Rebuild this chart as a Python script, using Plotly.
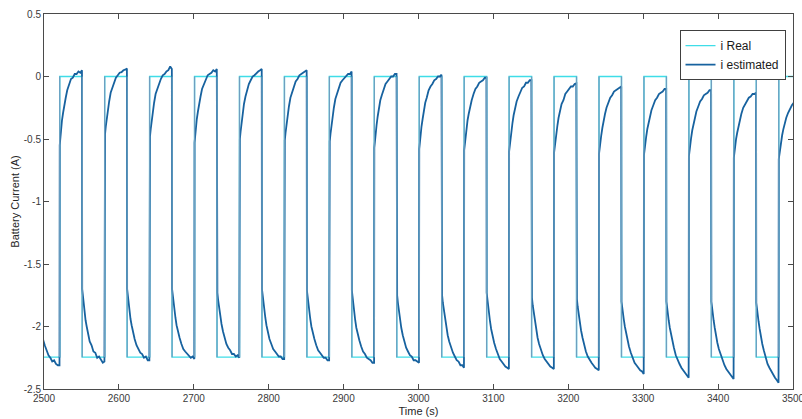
import plotly.graph_objects as go

# ---------------- data ----------------
rise_times = [2521, 2581, 2641, 2701, 2761, 2821, 2881, 2941, 3001, 3061,
              3121, 3181, 3241, 3301, 3361, 3421, 3481]
fall_times = [2551, 2611, 2671, 2731, 2791, 2851, 2911, 2971, 3031, 3091,
              3151, 3211, 3271, 3331, 3391, 3451]
real_high = 0.0
real_low = -2.245
real_start = 2490
real_end = 3510

# seconds after each transition at which the estimated current was read
phase_offsets = [0, 0.5, 1.5, 3, 4.5, 6, 8, 10, 12.5, 15, 17.5, 20, 22.5, 25, 27.5, 29.7]

# estimated current during the part of the low phase shown before the first rise
initial_low_start = 2491
initial_low_values = [-1.75, -1.80, -1.87, -1.95, -2.01, -2.06, -2.11, -2.15,
                      -2.19, -2.23, -2.25, -2.28, -2.27, -2.30, -2.31, -2.31]

# estimated current after each rise (real = 0 A)
high_phase_values = [
    [-0.55, -0.51, -0.45, -0.35, -0.29, -0.22, -0.17, -0.11, -0.07, -0.02, -0.01, 0.02, 0.02, 0.04, 0.03, 0.05],
    [-0.50, -0.46, -0.40, -0.32, -0.25, -0.20, -0.13, -0.09, -0.05, -0.01, 0.01, 0.03, 0.035, 0.05, 0.055, 0.065],
    [-0.52, -0.48, -0.42, -0.33, -0.27, -0.21, -0.14, -0.10, -0.05, -0.02, 0.01, 0.02, 0.04, 0.05, 0.08, 0.06],
    [-0.53, -0.49, -0.43, -0.34, -0.28, -0.21, -0.16, -0.10, -0.06, -0.03, 0.01, 0.02, 0.03, 0.05, 0.04, 0.06],
    [-0.54, -0.50, -0.44, -0.35, -0.29, -0.22, -0.16, -0.11, -0.06, -0.03, 0.00, 0.01, 0.03, 0.04, 0.05, 0.06],
    [-0.55, -0.51, -0.45, -0.37, -0.30, -0.24, -0.17, -0.13, -0.07, -0.04, -0.02, 0.01, 0.02, 0.03, 0.04, 0.05],
    [-0.56, -0.52, -0.46, -0.38, -0.31, -0.25, -0.18, -0.14, -0.09, -0.05, -0.03, -0.01, 0.01, 0.02, 0.02, 0.04],
    [-0.57, -0.53, -0.47, -0.39, -0.32, -0.26, -0.19, -0.15, -0.10, -0.06, -0.04, -0.02, 0.00, 0.00, 0.02, 0.02],
    [-0.58, -0.54, -0.48, -0.40, -0.34, -0.28, -0.21, -0.17, -0.11, -0.08, -0.06, -0.03, -0.02, 0.00, 0.00, 0.015],
    [-0.59, -0.56, -0.50, -0.42, -0.35, -0.30, -0.23, -0.19, -0.14, -0.10, -0.08, -0.05, -0.04, -0.03, -0.01, -0.01],
    [-0.60, -0.57, -0.51, -0.43, -0.37, -0.31, -0.25, -0.20, -0.16, -0.12, -0.09, -0.08, -0.05, -0.05, -0.03, -0.03],
    [-0.61, -0.58, -0.52, -0.45, -0.39, -0.33, -0.28, -0.22, -0.19, -0.14, -0.12, -0.10, -0.08, -0.08, -0.06, -0.055],
    [-0.62, -0.59, -0.54, -0.47, -0.41, -0.35, -0.30, -0.25, -0.21, -0.17, -0.15, -0.12, -0.11, -0.10, -0.09, -0.08],
    [-0.63, -0.60, -0.55, -0.48, -0.42, -0.37, -0.31, -0.27, -0.23, -0.19, -0.17, -0.14, -0.13, -0.12, -0.10, -0.10],
    [-0.64, -0.61, -0.56, -0.49, -0.43, -0.38, -0.32, -0.28, -0.24, -0.20, -0.18, -0.15, -0.14, -0.13, -0.11, -0.11],
    [-0.65, -0.62, -0.57, -0.50, -0.45, -0.40, -0.34, -0.30, -0.25, -0.22, -0.19, -0.17, -0.16, -0.14, -0.14, -0.13],
    [-0.66, -0.635, -0.59, -0.525, -0.47, -0.425, -0.37, -0.33, -0.29, -0.255, -0.23, -0.21, -0.195, -0.18, -0.17, -0.165],
]

# estimated current after each fall (real = -2.245 A)
low_phase_values = [
    [-1.70, -1.73, -1.80, -1.87, -1.95, -2.00, -2.05, -2.12, -2.15, -2.20, -2.21, -2.25, -2.24, -2.27, -2.29, -2.28],
    [-1.70, -1.73, -1.79, -1.87, -1.94, -1.99, -2.05, -2.10, -2.15, -2.18, -2.21, -2.22, -2.25, -2.24, -2.27, -2.27],
    [-1.70, -1.73, -1.79, -1.86, -1.93, -1.99, -2.05, -2.09, -2.14, -2.18, -2.20, -2.22, -2.23, -2.25, -2.24, -2.26],
    [-1.70, -1.73, -1.79, -1.86, -1.93, -1.98, -2.04, -2.09, -2.14, -2.17, -2.19, -2.22, -2.22, -2.24, -2.23, -2.25],
    [-1.70, -1.73, -1.79, -1.87, -1.93, -1.99, -2.05, -2.10, -2.14, -2.18, -2.20, -2.22, -2.24, -2.24, -2.26, -2.26],
    [-1.71, -1.74, -1.80, -1.88, -1.94, -2.00, -2.06, -2.10, -2.15, -2.19, -2.21, -2.23, -2.25, -2.25, -2.27, -2.27],
    [-1.71, -1.74, -1.80, -1.88, -1.95, -2.01, -2.07, -2.11, -2.16, -2.20, -2.22, -2.25, -2.26, -2.27, -2.29, -2.29],
    [-1.72, -1.75, -1.81, -1.89, -1.95, -2.01, -2.07, -2.12, -2.17, -2.20, -2.23, -2.24, -2.27, -2.27, -2.28, -2.29],
    [-1.72, -1.75, -1.81, -1.88, -1.95, -2.00, -2.07, -2.12, -2.17, -2.21, -2.24, -2.27, -2.28, -2.31, -2.31, -2.33],
    [-1.73, -1.76, -1.82, -1.89, -1.96, -2.02, -2.08, -2.13, -2.18, -2.23, -2.26, -2.28, -2.30, -2.32, -2.33, -2.34],
    [-1.74, -1.77, -1.83, -1.90, -1.97, -2.02, -2.09, -2.14, -2.19, -2.23, -2.26, -2.28, -2.31, -2.32, -2.33, -2.34],
    [-1.75, -1.78, -1.84, -1.91, -1.98, -2.03, -2.09, -2.15, -2.20, -2.24, -2.27, -2.29, -2.31, -2.33, -2.34, -2.35],
    [-1.80, -1.83, -1.88, -1.94, -2.00, -2.05, -2.11, -2.16, -2.21, -2.25, -2.29, -2.31, -2.33, -2.35, -2.36, -2.38],
    [-1.80, -1.83, -1.88, -1.95, -2.01, -2.06, -2.12, -2.17, -2.23, -2.27, -2.30, -2.33, -2.35, -2.37, -2.39, -2.41],
    [-1.80, -1.83, -1.88, -1.95, -2.01, -2.07, -2.13, -2.18, -2.23, -2.28, -2.31, -2.34, -2.36, -2.38, -2.40, -2.42],
    [-1.81, -1.84, -1.89, -1.96, -2.02, -2.08, -2.14, -2.19, -2.25, -2.30, -2.33, -2.36, -2.39, -2.41, -2.43, -2.45],
]

x_tick_vals = [2500, 2600, 2700, 2800, 2900, 3000, 3100, 3200, 3300, 3400, 3500]
x_tick_text = ["2500", "2600", "2700", "2800", "2900", "3000", "3100", "3200", "3300", "3400", "3500"]
y_tick_vals = [0.5, 0, -0.5, -1, -1.5, -2, -2.5]
y_tick_text = ["0.5", "0", "-0.5", "-1", "-1.5", "-2", "-2.5"]

# ---------------- build series ----------------
# real current: step signal
real_t = [real_start]
real_i = [real_low]
events = sorted([(t, real_high) for t in rise_times] + [(t, real_low) for t in fall_times])
for t, lvl in events:
    real_t.append(t)
    real_i.append(lvl)
real_t.append(real_end)
real_i.append(real_i[-1])

# vertical edges of the step signal (both curves overlap there)
edge_t, edge_i = [], []
for t, lvl in events:
    edge_t += [t, t, None]
    edge_i += [real_high, real_low, None]

# estimated current: concatenate phases in time order
est_t, est_i = [], []
for o, v in zip(phase_offsets, initial_low_values):
    est_t.append(initial_low_start + o)
    est_i.append(v)
for k, tr in enumerate(rise_times):
    for o, v in zip(phase_offsets, high_phase_values[k]):
        est_t.append(tr + o)
        est_i.append(v)
    if k < len(fall_times):
        tf = fall_times[k]
        for o, v in zip(phase_offsets, low_phase_values[k]):
            est_t.append(tf + o)
            est_i.append(v)

fig = go.Figure()
fig.add_trace(go.Scatter(x=real_t, y=real_i, mode="lines", name="i Real",
                         line=dict(color="#3FDDE8", width=1.4, shape="hv")))
fig.add_trace(go.Scatter(x=est_t, y=est_i, mode="lines", name="i estimated",
                         line=dict(color="#17629F", width=1.8)))
fig.add_trace(go.Scatter(x=edge_t, y=edge_i, mode="lines", showlegend=False,
                         hoverinfo="skip", line=dict(color="#6E9FC0", width=1.3)))

font_family = "Liberation Sans, Arial, sans-serif"
axis_font = dict(family=font_family, size=10, color="#3a3a3a")
fig.update_xaxes(range=[2500, 3500], tickvals=x_tick_vals, ticktext=x_tick_text,
                 showline=True, linecolor="#4a4a4a", linewidth=1, mirror="allticks",
                 ticks="inside", ticklen=5, tickcolor="#4a4a4a", showgrid=False, zeroline=False,
                 tickfont=axis_font, automargin=False, ticklabeloverflow="allow",
                 title=dict(text="Time (s)", font=dict(family=font_family, size=11, color="#262626"),
                            standoff=4))
fig.update_yaxes(range=[-2.5, 0.5], tickvals=y_tick_vals, ticktext=y_tick_text,
                 showline=True, linecolor="#4a4a4a", linewidth=1, mirror="allticks",
                 ticks="inside", ticklen=5, tickcolor="#4a4a4a", showgrid=False, zeroline=False,
                 tickfont=axis_font, automargin=False,
                 title=dict(text="Battery Current (A)", font=dict(family=font_family, size=11, color="#262626"),
                            standoff=1))
fig.update_layout(
    width=802, height=419,
    margin=dict(l=44, r=9, t=14, b=30),
    paper_bgcolor="white", plot_bgcolor="white",
    showlegend=True,
    legend=dict(x=0.99, y=0.957, xanchor="right", yanchor="top",
                bgcolor="white", bordercolor="#404040", borderwidth=1,
                font=dict(family=font_family, size=12, color="#1a1a1a"),
                itemwidth=30, tracegroupgap=0),
)

fig.write_html("out.html")
